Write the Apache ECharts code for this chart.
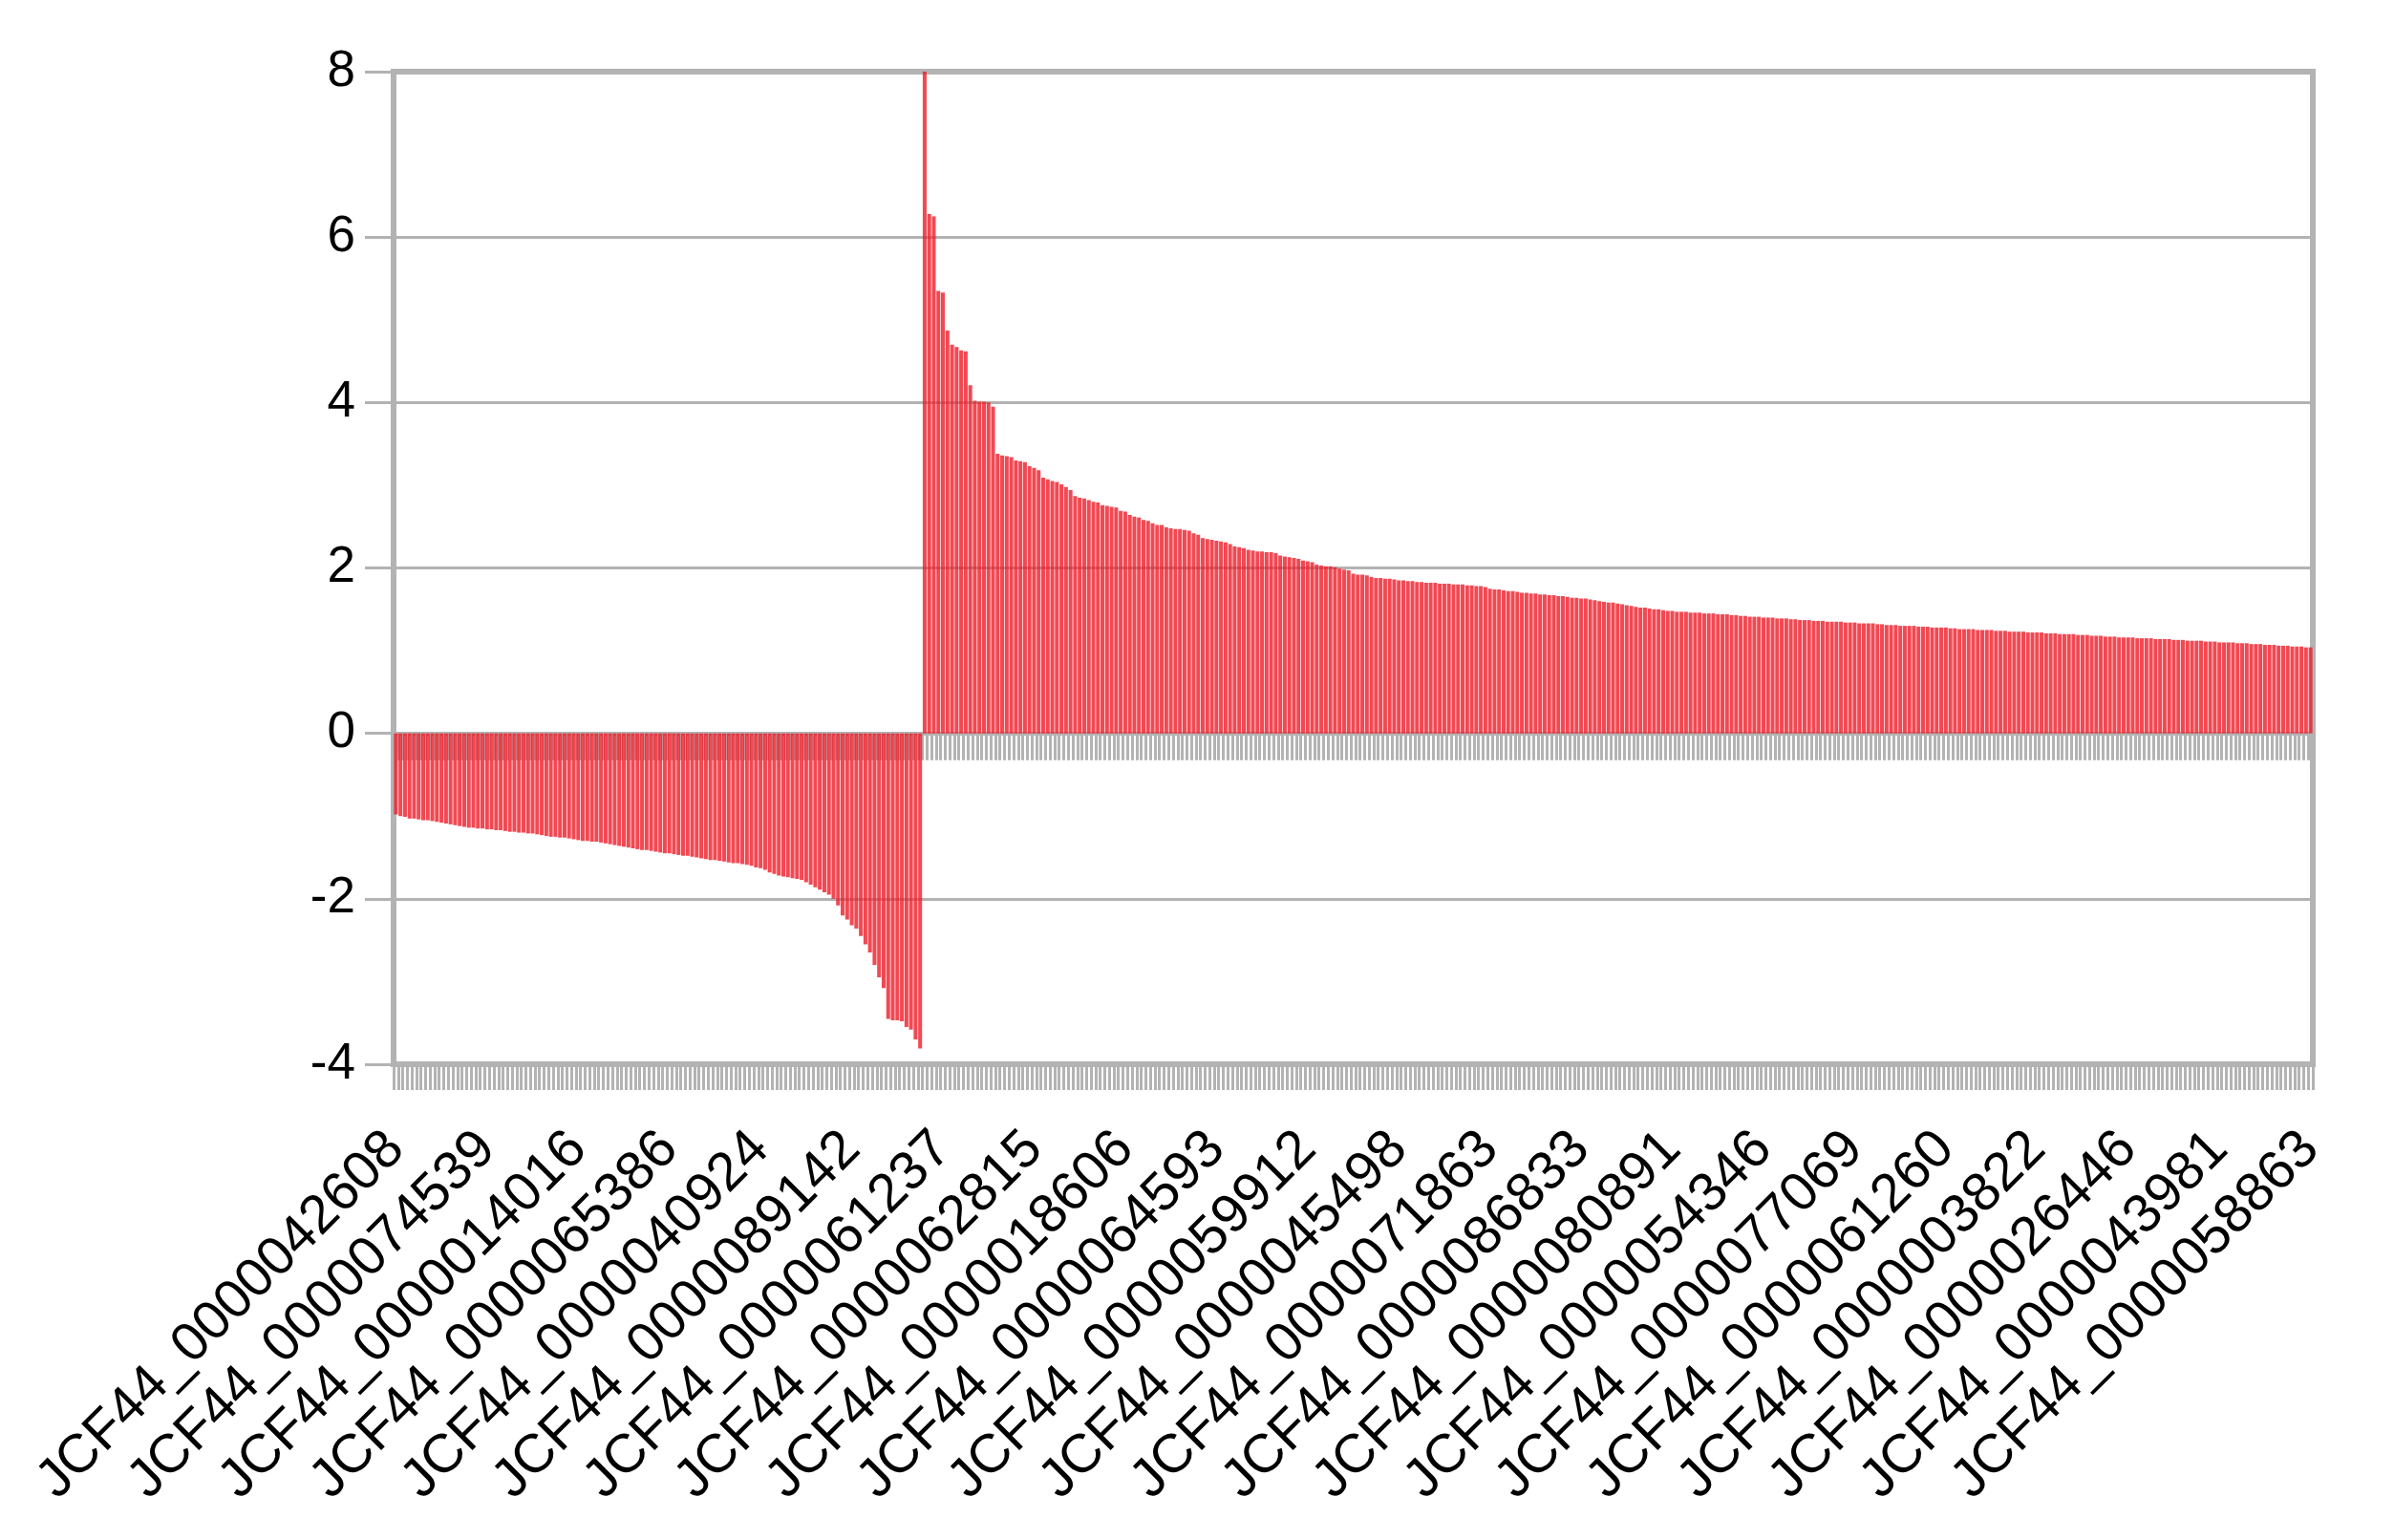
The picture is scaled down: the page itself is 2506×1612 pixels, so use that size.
<!DOCTYPE html>
<html>
<head>
<meta charset="utf-8">
<script src="https://cdn.jsdelivr.net/npm/echarts@6/dist/echarts.min.js"></script>
<style>
  html, body { margin: 0; padding: 0; background: #fff; }
  #chart { width: 2506px; height: 1612px; }
</style>
</head>
<body>
<div id="chart"></div>
<script>
// down-regulated genes (log2 fold change), left part of the chart
const downValues = [
  -0.98, -1.00, -1.01, -1.03,
  -1.03, -1.04, -1.05, -1.05, -1.06, -1.07,
  -1.08, -1.09, -1.10, -1.11, -1.12,
  -1.13, -1.14, -1.14, -1.15, -1.15,
  -1.16, -1.16, -1.17, -1.17, -1.18,
  -1.19, -1.19, -1.20, -1.20, -1.21, -1.21, -1.22, -1.23,
  -1.24, -1.25, -1.25, -1.26, -1.26, -1.27, -1.28, -1.29,
  -1.30, -1.30, -1.31, -1.31, -1.32, -1.33, -1.34,
  -1.35, -1.36, -1.37, -1.38, -1.39,
  -1.40, -1.41, -1.41, -1.42, -1.43,
  -1.44, -1.45, -1.45, -1.46, -1.47,
  -1.48, -1.48, -1.49, -1.50, -1.51,
  -1.52, -1.53, -1.53, -1.54, -1.55,
  -1.56, -1.57, -1.57, -1.58, -1.59, -1.60,
  -1.62, -1.63, -1.65, -1.68,
  -1.70, -1.72, -1.73, -1.74, -1.75,
  -1.76, -1.77, -1.80,
  -1.83, -1.86, -1.89,
  -1.92, -1.95, -2.00, -2.08, -2.20,
  -2.25, -2.32,
  -2.36, -2.45, -2.55,
  -2.65, -2.80,
  -2.95, -3.08,
  -3.45, -3.47, -3.47, -3.48,
  -3.55, -3.58,
  -3.70, -3.81
];

// up-regulated genes, right part of the chart
const upValues = [
  8.00, 6.28, 6.25, 5.35, 5.33, 4.87, 4.70, 4.67, 4.63, 4.62,
  4.21, 4.02, 4.01, 4.01, 4.00, 3.95,
  3.38, 3.36, 3.35, 3.34, 3.30, 3.29, 3.28, 3.23, 3.21, 3.18,
  3.09, 3.07, 3.05, 3.04, 3.01, 2.98, 2.94,
  2.87, 2.85, 2.84, 2.82, 2.80, 2.79,
  2.76, 2.75, 2.74, 2.73, 2.69, 2.68,
  2.64, 2.62, 2.61, 2.58, 2.57,
  2.54, 2.52, 2.52,
  2.49, 2.48, 2.47, 2.47, 2.46, 2.45,
  2.42, 2.40,
  2.36, 2.35, 2.34, 2.33, 2.32, 2.31, 2.29,
  2.26, 2.25, 2.24,
  2.22, 2.21, 2.20, 2.20, 2.19, 2.19, 2.18,
  2.15, 2.14, 2.13, 2.12, 2.11,
  2.09, 2.08, 2.07,
  2.04, 2.03, 2.02, 2.02, 2.01,
  1.99, 1.98, 1.97,
  1.93, 1.92, 1.92, 1.91,
  1.89, 1.88, 1.88, 1.87, 1.87,
  1.86, 1.85, 1.85, 1.84, 1.84,
  1.83, 1.83, 1.82, 1.82, 1.82, 1.81, 1.81, 1.81, 1.80, 1.80, 1.80, 1.79, 1.79, 1.78, 1.78, 1.77,
  1.75, 1.74, 1.74, 1.73, 1.72, 1.72, 1.71,
  1.70, 1.70, 1.69, 1.69, 1.68, 1.68, 1.67, 1.67, 1.66, 1.66,
  1.65, 1.64, 1.64, 1.63, 1.63, 1.62, 1.61, 1.60,
  1.59, 1.58, 1.58, 1.57, 1.56, 1.55, 1.54,
  1.53, 1.52, 1.52, 1.51, 1.50, 1.50, 1.49,
  1.48, 1.48, 1.47, 1.47, 1.47, 1.46, 1.46, 1.46, 1.45, 1.45, 1.45, 1.44, 1.44, 1.44, 1.43, 1.43,
  1.42, 1.42, 1.41, 1.41, 1.41, 1.40, 1.40, 1.40, 1.39, 1.39, 1.39, 1.38, 1.38,
  1.37, 1.37, 1.37, 1.36, 1.36, 1.36, 1.35, 1.35, 1.35, 1.35, 1.34, 1.34, 1.34, 1.33, 1.33, 1.33, 1.33,
  1.32, 1.32, 1.31, 1.31, 1.31, 1.30, 1.30, 1.30, 1.30, 1.29, 1.29, 1.29, 1.28, 1.28, 1.28, 1.28, 1.27,
  1.27, 1.26, 1.26, 1.26, 1.26, 1.25, 1.25, 1.25, 1.25, 1.24, 1.24, 1.24, 1.23, 1.23, 1.23, 1.23, 1.22, 1.22, 1.22, 1.22,
  1.21, 1.21, 1.21, 1.20, 1.20, 1.20, 1.20, 1.19, 1.19, 1.19, 1.18, 1.18, 1.18, 1.17,
  1.17, 1.17, 1.16, 1.16, 1.16, 1.16, 1.15, 1.15, 1.15, 1.15, 1.14, 1.14, 1.14, 1.14, 1.13, 1.13, 1.13, 1.12, 1.12, 1.12, 1.12,
  1.11, 1.11, 1.11, 1.10, 1.10, 1.10, 1.10, 1.09, 1.09, 1.09, 1.08, 1.08, 1.08, 1.07, 1.07, 1.07, 1.06, 1.06, 1.06, 1.05, 1.05, 1.05, 1.04, 1.04
];

// gene ids that can be read on the axis (one every 20 genes)
const tickLabels = [
  'JCF44_0000042608', 'JCF44_0000074539', 'JCF44_0000014016', 'JCF44_0000065386',
  'JCF44_0000040924', 'JCF44_0000089142', 'JCF44_0000061237', 'JCF44_0000062815',
  'JCF44_0000018606', 'JCF44_0000064593', 'JCF44_0000059912', 'JCF44_0000045498',
  'JCF44_0000071863', 'JCF44_0000086833', 'JCF44_0000080891', 'JCF44_0000054346',
  'JCF44_0000077069', 'JCF44_0000061260', 'JCF44_0000003822', 'JCF44_0000026446',
  'JCF44_0000043981', 'JCF44_0000058863'
];
const labelStep = 20;

const values = downValues.concat(upValues);
const categories = values.map((v, i) => (i % labelStep === 0 ? tickLabels[i / labelStep] : ''));

const grey = '#b3b3b3';
const font = "'Liberation Sans', Arial, sans-serif";

const chart = echarts.init(document.getElementById('chart'));
chart.setOption({
  animation: false,
  grid: {
    left: 412, right: 85, top: 75, bottom: 498,
    show: true, borderColor: grey, borderWidth: 6
  },
  xAxis: [
    {
      // axis line on zero with the small ticks
      type: 'category',
      data: categories,
      position: 'bottom',
      axisLine: { show: true, onZero: true, lineStyle: { color: grey, width: 4 } },
      axisTick: { show: true, interval: 0, length: 28, lineStyle: { color: grey, width: 3 } },
      axisLabel: { show: false },
      splitLine: { show: false }
    },
    {
      // frame bottom with the gene ids
      type: 'category',
      data: categories,
      position: 'bottom',
      axisLine: { show: true, onZero: false, lineStyle: { color: grey, width: 4 } },
      axisTick: { show: true, interval: 0, length: 27, lineStyle: { color: grey, width: 3 } },
      axisLabel: {
        show: true,
        interval: labelStep - 1,
        rotate: 45,
        margin: 80,
        color: '#000',
        fontSize: 57,
        fontFamily: font
      },
      splitLine: { show: false }
    }
  ],
  yAxis: {
    type: 'value',
    min: -4,
    max: 8,
    interval: 2,
    axisLine: { show: true, lineStyle: { color: grey, width: 4 } },
    axisTick: { show: true, length: 30, lineStyle: { color: grey, width: 3 } },
    splitLine: { show: true, lineStyle: { color: grey, width: 3 } },
    axisLabel: { color: '#000', fontSize: 53, fontFamily: font, margin: 40 }
  },
  series: [{
    type: 'bar',
    xAxisIndex: 0,
    data: values,
    barCategoryGap: '15%',
    itemStyle: { color: 'rgba(238, 28, 40, 0.8)' }
  }]
});
</script>
</body>
</html>
